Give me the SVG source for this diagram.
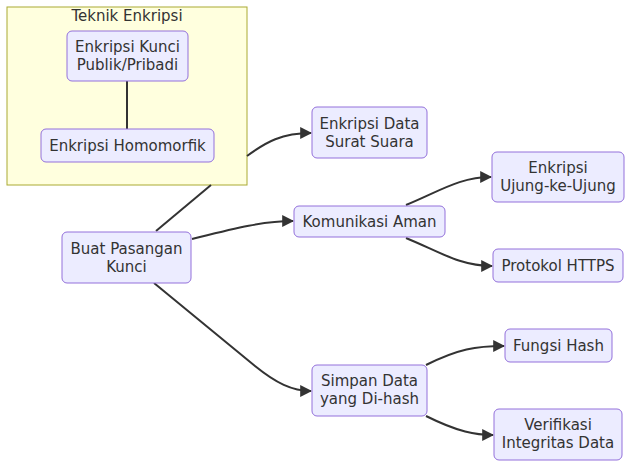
<svg xmlns="http://www.w3.org/2000/svg" width="640" height="474" viewBox="0 0 640 474">
<style>
.node rect{fill:#ECECFF;stroke:#9370DB;stroke-width:1}
text{font-family:"DejaVu Sans",sans-serif;font-size:15px;fill:#333;text-anchor:middle}
.edge{fill:none;stroke:#333;stroke-width:2}
.cluster rect{fill:#ffffde;stroke:#aaaa33;stroke-width:1}
</style>
<defs>
<marker id="arrow" viewBox="0 0 10 10" refX="9" refY="5" markerWidth="12" markerHeight="12" markerUnits="userSpaceOnUse" orient="auto">
<path d="M0,0 L10,5 L0,10 z" fill="#333"/>
</marker>
</defs>
<g id="cluster-teknik" class="cluster">
<rect x="7" y="7" width="240" height="178"/>
<text x="127" y="21">Teknik Enkripsi</text>
</g>
<g id="edges">
<path class="edge" d="M127,81 L127,129"/>
<path class="edge" d="M156,231 L211,185"/>
<path class="edge" d="M247,156 C266,142 282,133 311,133" marker-end="url(#arrow)"/>
<path class="edge" d="M192,239 C232,229 262,221 293,221" marker-end="url(#arrow)"/>
<path class="edge" d="M154,283 L255,366 C276,383 292,391 311,391" marker-end="url(#arrow)"/>
<path class="edge" d="M406,205 C440,191 460,177 491,177" marker-end="url(#arrow)"/>
<path class="edge" d="M406,238 C440,252 460,266 492,266" marker-end="url(#arrow)"/>
<path class="edge" d="M426,365 C458,349 476,346 504,346" marker-end="url(#arrow)"/>
<path class="edge" d="M426,416 C458,432 476,435 493,435" marker-end="url(#arrow)"/>
</g>
<g id="kunci-publik" class="node">
<rect x="67" y="31" width="121" height="50" rx="5"/>
<text x="127.5" y="52">Enkripsi Kunci</text>
<text x="127.5" y="70">Publik/Pribadi</text>
</g>
<g id="homomorfik" class="node">
<rect x="41" y="129" width="173" height="33" rx="5"/>
<text x="127.5" y="151">Enkripsi Homomorfik</text>
</g>
<g id="buat-pasangan" class="node">
<rect x="62" y="232" width="129" height="51" rx="5"/>
<text x="126.5" y="254">Buat Pasangan</text>
<text x="126.5" y="272">Kunci</text>
</g>
<g id="enkripsi-data" class="node">
<rect x="312" y="107" width="115" height="51" rx="5"/>
<text x="369.5" y="129">Enkripsi Data</text>
<text x="369.5" y="147">Surat Suara</text>
</g>
<g id="komunikasi" class="node">
<rect x="294" y="206" width="151" height="31" rx="5"/>
<text x="369.5" y="227">Komunikasi Aman</text>
</g>
<g id="ujung" class="node">
<rect x="492" y="152" width="132" height="50" rx="5"/>
<text x="558" y="173">Enkripsi</text>
<text x="558" y="191">Ujung-ke-Ujung</text>
</g>
<g id="https" class="node">
<rect x="493" y="249" width="130" height="33" rx="5"/>
<text x="558" y="271">Protokol HTTPS</text>
</g>
<g id="simpan" class="node">
<rect x="312" y="365" width="115" height="51" rx="5"/>
<text x="369.5" y="386">Simpan Data</text>
<text x="369.5" y="404">yang Di-hash</text>
</g>
<g id="fungsi-hash" class="node">
<rect x="505" y="329" width="107" height="33" rx="5"/>
<text x="558.5" y="351">Fungsi Hash</text>
</g>
<g id="verifikasi" class="node">
<rect x="494" y="409" width="128" height="51" rx="5"/>
<text x="558" y="430">Verifikasi</text>
<text x="558" y="448">Integritas Data</text>
</g>
</svg>
